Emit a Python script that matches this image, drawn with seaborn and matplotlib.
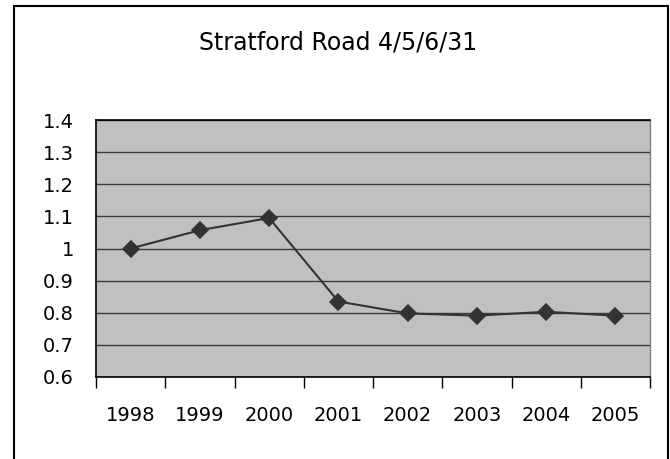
import matplotlib
matplotlib.use("Agg")
import matplotlib.pyplot as plt
from matplotlib.patches import Rectangle
import seaborn as sns
import pandas as pd
import numpy as np

years = ["1998", "1999", "2000", "2001", "2002", "2003", "2004", "2005"]
values = [1.0, 1.057, 1.095, 0.835, 0.798, 0.791, 0.803, 0.791]
yticks = [0.6, 0.7, 0.8, 0.9, 1.0, 1.1, 1.2, 1.3, 1.4]
ytick_labels = ["0.6", "0.7", "0.8", "0.9", "1", "1.1", "1.2", "1.3", "1.4"]
title = "Stratford Road 4/5/6/31"

df = pd.DataFrame({"year": years, "value": values})

sns.set_style("white")
plt.rcParams["font.family"] = ["DejaVu Sans"]

fig = plt.figure(figsize=(6.7, 4.59), dpi=100)
fig.patch.set_facecolor("white")
ax = fig.add_axes([96/670, 1-377/459, (650-96)/670, (377-120)/459])
ax.set_facecolor("#c0c0c0")

sns.pointplot(data=df, x="year", y="value", ax=ax, color="#333333",
              markers="D", linestyles="-", markersize=8, linewidth=1.5,
              errorbar=None, zorder=5)

ax.set_ylim(0.6, 1.4)
ax.set_xlim(-0.5, len(years) - 0.5)
ax.set_yticks(yticks)
ax.set_yticklabels(ytick_labels)
ax.yaxis.grid(True, color="#3a3a3a", linewidth=1.0)
ax.set_axisbelow(True)
ax.tick_params(axis="y", length=0, pad=16, labelsize=14, labelcolor="black")
ax.set_xticks(range(len(years)))
ax.set_xticklabels(years)
ax.tick_params(axis="x", which="major", length=0, pad=21, labelsize=14, labelcolor="black")
ax.set_xticks(np.arange(-0.5, len(years)), minor=True)
ax.tick_params(axis="x", which="minor", bottom=True, length=8, width=1,
               color="black", direction="out")
ax.set_xlabel("")
ax.set_ylabel("")

for side in ["top", "left", "bottom"]:
    ax.spines[side].set_visible(True)
    ax.spines[side].set_color("black")
    ax.spines[side].set_linewidth(1.2)
ax.spines["right"].set_visible(True)
ax.spines["right"].set_color("#808080")
ax.spines["right"].set_linewidth(1.0)

fig.text(338/670, 1-42/459, title, ha="center", va="center", fontsize=17, color="black")

fig.patches.append(Rectangle((14/670, -0.05), (668-14)/670, 1.05 - 6/459,
                             transform=fig.transFigure, fill=False,
                             edgecolor="black", linewidth=1.5))

fig.savefig("out.png", dpi=100)
